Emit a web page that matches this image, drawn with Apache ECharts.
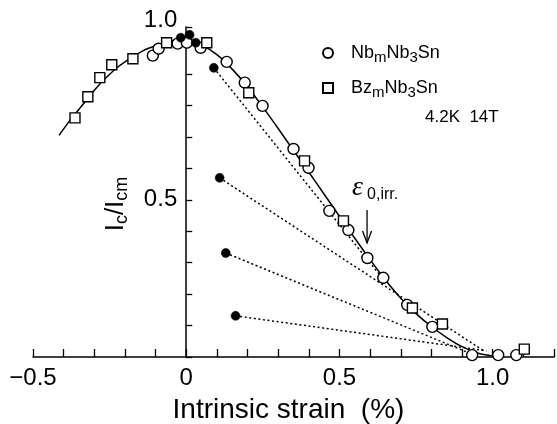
<!DOCTYPE html>
<html><head><meta charset="utf-8">
<script src="https://cdn.jsdelivr.net/npm/echarts/dist/echarts.min.js"></script>
<style>html,body{margin:0;padding:0;background:#fff}#c{width:557px;height:424px}</style>
</head><body><div id="c"></div>
<script>
// ---- data ----
const nbStrain = [-0.109,-0.090,-0.028,0.002,0.047,0.132,0.191,0.249,0.350,0.399,0.467,0.529,0.591,0.643,0.721,0.803,0.933,1.018,1.077];
const nbIc     = [0.959,0.981,0.997,1.000,0.984,0.939,0.873,0.799,0.662,0.602,0.465,0.404,0.315,0.252,0.166,0.096,0.006,0.006,0.006];
const bzStrain = [-0.363,-0.321,-0.282,-0.243,-0.174,-0.064,0.067,0.204,0.386,0.513,0.738,0.836,1.103];
const bzIc     = [0.761,0.828,0.889,0.930,0.949,1.000,1.000,0.841,0.624,0.433,0.156,0.105,0.025];
const filledStrain = [-0.018,0.011,0.031,0.090,0.109,0.129,0.161];
const filledIc     = [1.016,1.025,1.000,0.920,0.570,0.331,0.131];
const dotStartIdx  = [3,4,5,6];
const dotEndStrain = [0.643,0.97,0.93,0.98];
const dotEndIc     = [0.247,0.02,0.01,0.02];
const curveStrain = [-0.415,-0.38,-0.34,-0.30,-0.26,-0.22,-0.18,-0.14,-0.10,-0.05,0.0,0.05,0.10,0.15,0.20,0.25,0.30,0.35,0.40,0.45,0.50,0.55,0.60,0.65,0.70,0.75,0.80,0.85,0.90,0.95,1.0,1.01];
const curveIc     = [0.705,0.752,0.800,0.849,0.890,0.925,0.952,0.975,0.990,1.005,1.012,0.993,0.962,0.916,0.860,0.795,0.727,0.657,0.588,0.518,0.448,0.378,0.310,0.245,0.187,0.138,0.097,0.062,0.033,0.013,0.003,0.002];
const xTickLabels = {'-0.5':'\u22120.5','0':'0','0.5':'0.5','1':'1.0'};
const yTickLabels = {'0.5':'0.5','1':'{up|1.0}'};
const epsIrr = 0.59;
const seriesNames = ['NbmNb3Sn','BzmNb3Sn'];

const zip = (a,b) => a.map((v,i)=>[v,b[i]]);
const key = v => String(Math.round(v*1000)/1000);
const FONT = 'Liberation Sans, Arial, Helvetica, sans-serif';
const GRID = {left:33, right:3, top:27, bottom:67, containLabel:false, outerBoundsMode:'none'};

const dotSeries = dotStartIdx.map((si,k)=>({
  type:'line', data:[[filledStrain[si],filledIc[si]],[dotEndStrain[k],dotEndIc[k]]],
  symbol:'none', silent:true, z:1,
  lineStyle:{color:'#000', width:1.5, type:[2,2.6]}
}));

const chart = echarts.init(document.getElementById('c'), null, {renderer:'canvas'});
const legendRich = {
  s:{fontSize:15, lineHeight:12, verticalAlign:'bottom', fontFamily:FONT, color:'#000'}
};
chart.setOption({
  animation:false,
  backgroundColor:'#fff',
  grid:GRID,
  xAxis:{
    type:'value', min:-0.5, max:1.2, interval:0.1,
    name:'Intrinsic strain  (%)', nameLocation:'middle', nameGap:39, nameMoveOverlap:false,
    nameTextStyle:{fontSize:28, color:'#000', fontFamily:FONT, padding:[0,10,0,0]},
    axisLine:{show:true, onZero:false, lineStyle:{color:'#000', width:1.5}},
    axisTick:{show:true, inside:true, length:8, lineStyle:{color:'#000', width:1.3}},
    axisLabel:{show:true, fontSize:24, color:'#000', fontFamily:FONT, margin:9, hideOverlap:false,
      formatter:v => xTickLabels[key(v)] || ''},
    splitLine:{show:false}
  },
  yAxis:{
    type:'value', min:0, max:1.05, interval:0.1, offset:0,
    axisLine:{show:true, onZero:false, lineStyle:{color:'#000', width:1.5}},
    axisTick:{show:true, inside:true, length:6, lineStyle:{color:'#000', width:1.3}},
    axisLabel:{show:true, fontSize:24, color:'#000', fontFamily:FONT, margin:9, hideOverlap:false,
      formatter:v => yTickLabels[key(v)] || '',
      rich:{up:{fontSize:24, color:'#000', fontFamily:FONT, padding:[0,0,44,0]}}},
    splitLine:{show:false}
  },
  legend:{
    show:true, orient:'vertical', left:317, top:36, itemGap:11, itemWidth:10, itemHeight:10,
    selectedMode:false,
    data:[{name:seriesNames[0], icon:'circle'},{name:seriesNames[1], icon:'rect'}],
    formatter:name => name.slice(0,2)+'{s|m}Nb{s|3}Sn',
    textStyle:{fontSize:18, lineHeight:24, color:'#000', fontFamily:FONT, padding:[0,0,0,13], rich:legendRich}
  },
  series:[
    {type:'line', data:zip(curveStrain,curveIc), smooth:0.35, symbol:'none', silent:true, z:2,
     lineStyle:{color:'#000', width:1.5}},
    ...dotSeries,
    {name:seriesNames[0], type:'scatter', data:zip(nbStrain,nbIc), symbol:'circle', symbolSize:11, z:3, clip:false,
     itemStyle:{color:'#fff', borderColor:'#000', borderWidth:1.4, opacity:1}},
    {name:seriesNames[1], type:'scatter', data:zip(bzStrain,bzIc), symbol:'rect', symbolSize:10, z:3, clip:false,
     itemStyle:{color:'#fff', borderColor:'#000', borderWidth:1.4, opacity:1}},
    {type:'scatter', data:zip(filledStrain,filledIc), symbol:'circle', symbolSize:9, z:4, clip:false,
     itemStyle:{color:'#000', borderColor:'#000', borderWidth:0.5, opacity:1}}
  ]
});

const p = (x,y) => chart.convertToPixel({xAxisIndex:0, yAxisIndex:0}, [x,y]);
// place the y axis (line, ticks, labels) at strain = 0
const x0 = p(0,0)[0];
const aTop = p(epsIrr, 0.468), aBot = p(epsIrr, 0.363);
const epsPos = p(epsIrr, 0.54);
chart.setOption({
  yAxis:{offset:-(x0 - GRID.left)},
  graphic:[
    {type:'text', x:116, y:204, rotation:Math.PI/2, silent:true,
     style:{text:'I{s|c}/I{s|cm}', fontSize:26, lineHeight:30, fontFamily:FONT, fill:'#000',
       align:'center', verticalAlign:'middle',
       rich:{s:{fontSize:18, lineHeight:14, verticalAlign:'bottom', fontFamily:FONT, fill:'#000'}}}},
    {type:'text', x:425, y:117, silent:true,
     style:{text:'4.2K  14T', fontSize:17, fontFamily:FONT, fill:'#000', align:'left', verticalAlign:'middle'}},
    {type:'text', x:epsPos[0]-15, y:epsPos[1], silent:true,
     style:{text:'{e|\u03b5}{s|0,irr.}', align:'left', verticalAlign:'middle',
       rich:{e:{fontSize:28, lineHeight:30, fontFamily:'Liberation Serif, serif', fontStyle:'italic', fill:'#000'},
             s:{fontSize:16, lineHeight:18, verticalAlign:'bottom', fontFamily:FONT, fill:'#000', padding:[0,0,0,4]}}}},
    {type:'polyline', silent:true, shape:{points:[aTop, aBot]}, style:{stroke:'#000', lineWidth:1.3, fill:null}},
    {type:'polyline', silent:true, shape:{points:[[aBot[0]-4.5,aBot[1]-12],[aBot[0],aBot[1]],[aBot[0]+4.5,aBot[1]-12]]},
     style:{stroke:'#000', lineWidth:1.3, fill:null}}
  ]
});
</script></body></html>
